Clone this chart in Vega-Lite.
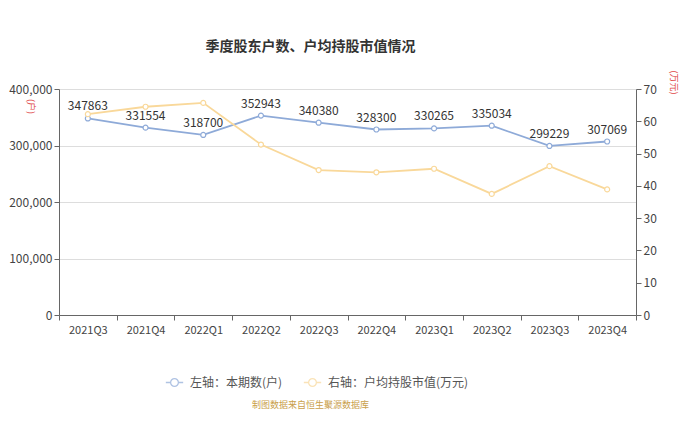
{
  "$schema": "https://vega.github.io/schema/vega-lite/v6.json",
  "width": 577,
  "height": 226,
  "autosize": {"type": "none"},
  "padding": {"left": 59, "top": 89, "right": 64, "bottom": 114},
  "background": "white",
  "title": {
    "text": "季度股东户数、户均持股市值情况",
    "anchor": "middle",
    "frame": "group",
    "dx": -37,
    "offset": 16,
    "fontSize": 14,
    "fontWeight": "bold",
    "color": "#333333",
    "font": "Noto Sans CJK SC"
  },
  "data": {
    "values": [
      {"quarter": "2021Q3", "households": 347863, "avgValue": 62.2},
      {"quarter": "2021Q4", "households": 331554, "avgValue": 64.5},
      {"quarter": "2022Q1", "households": 318700, "avgValue": 65.7},
      {"quarter": "2022Q2", "households": 352943, "avgValue": 52.8},
      {"quarter": "2022Q3", "households": 340380, "avgValue": 44.9},
      {"quarter": "2022Q4", "households": 328300, "avgValue": 44.2},
      {"quarter": "2023Q1", "households": 330265, "avgValue": 45.3},
      {"quarter": "2023Q2", "households": 335034, "avgValue": 37.5},
      {"quarter": "2023Q3", "households": 299229, "avgValue": 46.1},
      {"quarter": "2023Q4", "households": 307069, "avgValue": 38.9}
    ]
  },
  "encoding": {
    "x": {
      "field": "quarter",
      "type": "ordinal",
      "sort": null,
      "scale": {"type": "band", "paddingInner": 0, "paddingOuter": 0},
      "axis": {
        "title": "制图数据来自恒生聚源数据库",
        "titleX": 251,
        "titleY": 85,
        "titleFontSize": 9,
        "titleFontWeight": "normal",
        "titleColor": "#c9a04a",
        "titleFont": "Noto Sans CJK SC",
        "labelAngle": 0,
        "labelFontSize": 11,
        "labelColor": "#444444",
        "labelFont": "Noto Sans CJK SC",
        "labelPadding": 4,
        "tickBand": "extent",
        "tickColor": "#666666",
        "tickSize": 5,
        "domainColor": "#666666",
        "grid": false
      }
    }
  },
  "layer": [
    {
      "encoding": {
        "y": {
          "field": "households",
          "type": "quantitative",
          "scale": {"domain": [0, 400000]},
          "axis": {
            "title": "(户)",
            "titleAngle": 90,
            "titleX": -29,
            "titleY": 17,
            "titleAlign": "center",
            "titleBaseline": "middle",
            "titleFontSize": 9,
            "titleFontWeight": "normal",
            "titleColor": "#e04848",
            "titleFont": "Noto Sans CJK SC",
            "labelExpr": "format(datum.value, ',')",
            "tickCount": 4,
            "labelFontSize": 12,
            "labelColor": "#444444",
            "labelFont": "Noto Sans CJK SC",
            "tickColor": "#666666",
            "tickSize": 5,
            "domainColor": "#666666",
            "gridColor": "#dddddd"
          }
        }
      },
      "layer": [
        {
          "mark": {"type": "line", "color": "#8eaad8", "strokeWidth": 1.8, "point": {"filled": true, "fill": "white", "stroke": "#8eaad8", "strokeWidth": 1.2, "size": 25}}
        },
        {
          "mark": {"type": "text", "baseline": "bottom", "dy": -5, "fontSize": 12, "color": "#333333", "font": "Noto Sans CJK SC"},
          "encoding": {
            "text": {"field": "households", "type": "quantitative", "format": "d"}
          }
        }
      ]
    },
    {
      "encoding": {
        "y": {
          "field": "avgValue",
          "type": "quantitative",
          "scale": {"domain": [0, 70]},
          "axis": {
            "orient": "right",
            "title": "(万元)",
            "titleAngle": 90,
            "titleX": 37,
            "titleY": -7,
            "titleAlign": "center",
            "titleBaseline": "middle",
            "titleFontSize": 9,
            "titleFontWeight": "normal",
            "titleColor": "#e04848",
            "titleFont": "Noto Sans CJK SC",
            "values": [0, 10, 20, 30, 40, 50, 60, 70],
            "labelFontSize": 12,
            "labelColor": "#444444",
            "labelFont": "Noto Sans CJK SC",
            "tickColor": "#666666",
            "tickSize": 5,
            "domainColor": "#666666",
            "grid": false
          }
        }
      },
      "layer": [
        {
          "mark": {"type": "line", "color": "#f9d89a", "strokeWidth": 1.8, "point": {"filled": true, "fill": "white", "stroke": "#f9d89a", "strokeWidth": 1.2, "size": 25}}
        },
        {
          "data": {"values": []},
          "mark": {"type": "point", "filled": false, "strokeWidth": 1.3, "shape": "M -1 0 L -0.45 0 M 0.45 0 L 1 0 M 0.45 0 A 0.45 0.45 0 1 1 -0.45 0 A 0.45 0.45 0 1 1 0.45 0"},
          "encoding": {
            "color": {
              "field": "series",
              "type": "nominal",
              "scale": {"domain": ["左轴：本期数(户)", "右轴：户均持股市值(万元)"], "range": ["#8eaad8", "#f9d89a"]},
              "legend": {
                "title": null,
                "orient": "none",
                "direction": "horizontal",
                "legendX": 106,
                "legendY": 284,
                "symbolSize": 300,
                "symbolStrokeWidth": 1.3,
                "symbolFillColor": "white",
                "labelFontSize": 12,
                "labelColor": "#555555",
                "labelFont": "Noto Sans CJK SC",
                "columnPadding": 18,
                "labelOffset": 6
              }
            }
          }
        }
      ]
    }
  ],
  "resolve": {"scale": {"y": "independent"}},
  "config": {
    "view": {"stroke": null}
  }
}
